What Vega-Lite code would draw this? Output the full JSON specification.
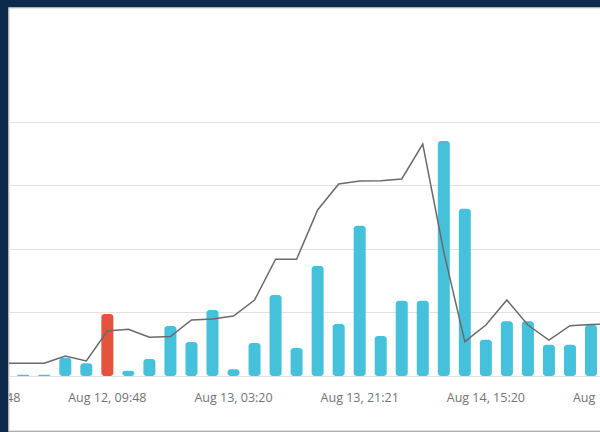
{
  "$schema": "https://vega.github.io/schema/vega-lite/v6.json",
  "padding": {"left": 8, "top": 7, "right": 0, "bottom": 0},
  "background": "#0e2a4b",
  "config": {
    "view": {"fill": "#ffffff", "stroke": "#dcdcdc", "strokeWidth": 1.5},
    "concat": {"spacing": 0},
    "font": "Open Sans"
  },
  "datasets": {
    "bars": [
      {"i": 1, "v": 0.2, "status": "normal"},
      {"i": 2, "v": 0.2, "status": "normal"},
      {"i": 3, "v": 2.88, "status": "normal"},
      {"i": 4, "v": 2.0, "status": "normal"},
      {"i": 5, "v": 9.75, "status": "alert"},
      {"i": 6, "v": 0.83, "status": "normal"},
      {"i": 7, "v": 2.67, "status": "normal"},
      {"i": 8, "v": 7.86, "status": "normal"},
      {"i": 9, "v": 5.35, "status": "normal"},
      {"i": 10, "v": 10.38, "status": "normal"},
      {"i": 11, "v": 1.05, "status": "normal"},
      {"i": 12, "v": 5.19, "status": "normal"},
      {"i": 13, "v": 12.74, "status": "normal"},
      {"i": 14, "v": 4.4, "status": "normal"},
      {"i": 15, "v": 17.3, "status": "normal"},
      {"i": 16, "v": 8.18, "status": "normal"},
      {"i": 17, "v": 23.64, "status": "normal"},
      {"i": 18, "v": 6.29, "status": "normal"},
      {"i": 19, "v": 11.84, "status": "normal"},
      {"i": 20, "v": 11.84, "status": "normal"},
      {"i": 21, "v": 36.96, "status": "normal"},
      {"i": 22, "v": 26.32, "status": "normal"},
      {"i": 23, "v": 5.71, "status": "normal"},
      {"i": 24, "v": 8.6, "status": "normal"},
      {"i": 25, "v": 8.6, "status": "normal"},
      {"i": 26, "v": 4.92, "status": "normal"},
      {"i": 27, "v": 4.92, "status": "normal"},
      {"i": 28, "v": 8.02, "status": "normal"}
    ],
    "line": [
      {"i": 0, "v": 2.0},
      {"i": 1, "v": 2.0},
      {"i": 2, "v": 2.0},
      {"i": 3, "v": 3.15},
      {"i": 4, "v": 2.36},
      {"i": 5, "v": 7.08},
      {"i": 6, "v": 7.35},
      {"i": 7, "v": 6.09},
      {"i": 8, "v": 6.21},
      {"i": 9, "v": 8.81},
      {"i": 10, "v": 8.97},
      {"i": 11, "v": 9.44},
      {"i": 12, "v": 11.95},
      {"i": 13, "v": 18.36},
      {"i": 14, "v": 18.36},
      {"i": 15, "v": 26.11},
      {"i": 16, "v": 30.2},
      {"i": 17, "v": 30.67},
      {"i": 18, "v": 30.72},
      {"i": 19, "v": 30.99},
      {"i": 20, "v": 36.49},
      {"i": 21, "v": 19.5},
      {"i": 22, "v": 5.4},
      {"i": 23, "v": 8.02},
      {"i": 24, "v": 11.95},
      {"i": 25, "v": 8.02},
      {"i": 26, "v": 5.66},
      {"i": 27, "v": 7.91},
      {"i": 28, "v": 8.1},
      {"i": 29, "v": 8.18}
    ],
    "labels": [
      {"i": -1, "label": "Aug 11, 15:48"},
      {"i": 5, "label": "Aug 12, 09:48"},
      {"i": 11, "label": "Aug 13, 03:20"},
      {"i": 17, "label": "Aug 13, 21:21"},
      {"i": 23, "label": "Aug 14, 15:20"},
      {"i": 29, "label": "Aug 15, 09:20"}
    ]
  },
  "vconcat": [
    {
      "width": 592,
      "height": 423,
      "encoding": {
        "x": {"field": "i", "type": "quantitative", "scale": {"domain": [0.561, 28.238], "nice": false, "zero": false}, "axis": null}
      },
      "layer": [
        {
          "data": {"name": "bars"},
          "mark": {"type": "bar", "orient": "vertical", "size": 12, "cornerRadiusEnd": 3, "clip": true},
          "encoding": {
            "y": {"field": "v", "type": "quantitative", "scale": {"domain": [-8.651, 57.88], "nice": false, "zero": false},
                  "axis": {"values": [0, 10, 20, 30, 40], "domain": false, "ticks": false, "labels": false, "title": null, "gridColor": "#e2e2e2", "gridWidth": 1}},
            "y2": {"datum": 0},
            "color": {"field": "status", "type": "nominal", "scale": {"domain": ["normal", "alert"], "range": ["#45c1dc", "#e5533f"]}, "legend": null}
          }
        },
        {
          "data": {"name": "line"},
          "mark": {"type": "line", "color": "#6a6a6a", "strokeWidth": 1.5, "clip": true},
          "encoding": {
            "y": {"field": "v", "type": "quantitative"}
          }
        },
        {
          "data": {"name": "labels"},
          "mark": {"type": "text", "fontSize": 12.5, "color": "#737373", "baseline": "alphabetic", "align": "center", "clip": true},
          "encoding": {
            "y": {"datum": -4.09, "type": "quantitative"},
            "text": {"field": "label"}
          }
        }
      ]
    }
  ]
}
